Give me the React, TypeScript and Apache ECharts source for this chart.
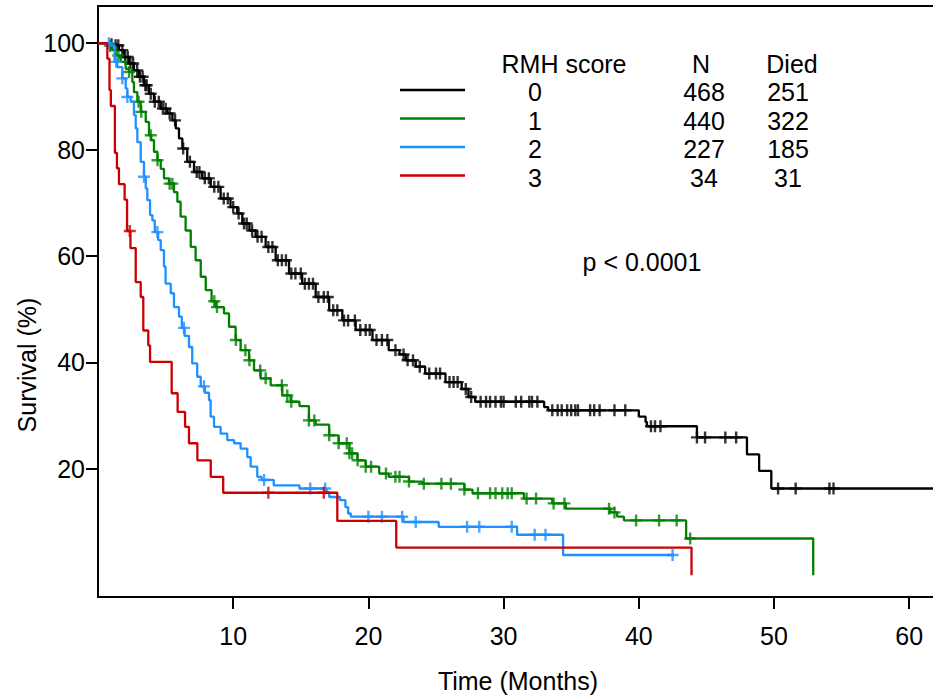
import React, { useEffect, useRef } from "react";
import * as echarts from "echarts";

// Kaplan–Meier step points: [time (months), survival (%)] after each drop
const score0: [number, number][] = [
  [0, 100], [0.9, 99.8], [1.18, 99.6], [1.55, 98.7], [1.92, 97.4], [2.29, 96.2], [2.66, 94.9],
  [3.03, 93.7], [3.4, 92.1], [3.77, 90.5], [4.14, 89.0], [4.64, 87.7], [5.13, 86.8], [5.5, 85.5],
  [5.75, 84.0], [5.99, 82.1], [6.24, 80.2], [6.6, 77.7], [7.1, 75.8], [7.71, 74.6], [8.34, 73.0],
  [9.07, 70.8], [9.8, 69.2], [10.3, 68.0], [10.67, 66.1], [11.2, 64.8], [11.66, 63.6], [12.4, 61.7],
  [13.14, 59.2], [14.13, 56.7], [15.1, 54.8], [16.1, 52.3], [17.1, 49.8], [18.07, 47.9], [19.06, 46.1],
  [20.3, 44.2], [21.5, 42.3], [22.3, 41.5], [22.76, 40.4], [23.5, 39.2], [24.2, 37.9], [25.7, 36.3],
  [26.9, 35.0], [27.4, 33.5], [27.9, 32.6], [33.0, 31.6], [33.3, 31.0], [40.0, 29.8], [40.5, 28.8],
  [40.6, 28.0], [44.3, 25.9], [48.0, 22.7], [48.9, 19.6], [49.8, 16.3], [61.8, 16.3],
];
const score1: [number, number][] = [
  [0, 100], [0.75, 99.5], [1.06, 98.7], [1.31, 97.7], [1.68, 96.5], [2.05, 95.2], [2.29, 94.6],
  [2.54, 92.7], [2.66, 90.8], [2.91, 89.0], [3.16, 87.1], [3.53, 85.2], [3.77, 82.7], [3.94, 81.8],
  [4.14, 79.6], [4.4, 78.0], [4.64, 76.4], [4.88, 74.6], [5.25, 73.6], [5.62, 72.0], [5.87, 70.2],
  [6.11, 67.4], [6.48, 64.8], [6.86, 61.7], [7.22, 59.2], [7.6, 56.1], [7.97, 53.6], [8.4, 51.5],
  [8.7, 50.4], [9.32, 49.2], [9.69, 46.7], [10.18, 44.2], [10.55, 42.3], [11.17, 40.4], [11.54, 38.5],
  [12.03, 37.0], [12.77, 35.7], [13.63, 33.8], [14.25, 32.6], [14.9, 31.8], [15.6, 29.1], [16.1, 28.3],
  [17.1, 26.3], [17.8, 24.8], [18.6, 22.9], [19.2, 21.6], [19.8, 20.4], [20.8, 19.1], [21.5, 18.5],
  [23.0, 17.6], [24.0, 17.2], [27.1, 16.1], [27.7, 15.4], [31.5, 14.4], [33.6, 13.5], [34.6, 12.5],
  [37.9, 11.8], [38.4, 11.0], [38.9, 10.3], [43.5, 6.9], [52.9, 0],
];
const score2: [number, number][] = [
  [0, 100], [0.89, 99.6], [1.23, 96.5], [1.43, 95.5], [1.8, 93.4], [2.05, 91.5], [2.17, 89.9],
  [2.42, 89.0], [2.66, 86.5], [2.79, 84.0], [2.91, 81.4], [3.16, 77.7], [3.4, 74.9], [3.53, 72.7],
  [3.65, 70.5], [3.85, 67.7], [4.02, 66.7], [4.2, 64.5], [4.45, 63.0], [4.64, 61.1], [4.88, 58.0],
  [5.0, 54.8], [5.38, 53.0], [5.62, 50.4], [5.99, 48.6], [6.2, 46.5], [6.4, 45.0], [6.73, 42.9],
  [6.97, 39.8], [7.34, 37.3], [7.6, 35.5], [7.9, 34.3], [8.21, 32.9], [8.33, 29.8], [8.58, 27.9],
  [9.07, 26.6], [9.56, 25.4], [10.06, 24.8], [10.55, 23.8], [11.04, 22.2], [11.29, 20.4], [11.78, 18.5],
  [12.1, 17.9], [13.0, 16.9], [14.9, 16.3], [16.9, 15.5], [17.1, 14.7], [17.9, 14.1], [18.3, 12.8],
  [18.5, 11.6], [18.7, 11.0], [22.6, 10.0], [25.2, 9.1], [31.0, 7.6], [34.4, 3.8], [42.6, 3.8],
];
const score3: [number, number][] = [
  [0, 100], [0.69, 97.1], [0.85, 91.2], [0.95, 88.2], [1.25, 79.4], [1.4, 76.5], [1.55, 73.5],
  [1.97, 70.6], [2.15, 64.7], [2.4, 61.5], [2.79, 55.1], [3.16, 52.3], [3.35, 46.0], [3.72, 43.2],
  [3.85, 40.1], [5.45, 34.2], [5.89, 30.7], [6.44, 27.9], [6.73, 24.8], [7.35, 21.6], [8.34, 18.5],
  [9.26, 15.5], [17.7, 10.2], [22.06, 5.2], [43.9, 0],
];

// Censoring times (months)
const censor0: number[] = [
  1.0, 1.3, 1.5, 1.8, 2.0, 2.2, 2.4, 2.6, 2.9, 3.1, 3.3, 3.5, 3.6, 3.9, 4.2, 4.5, 4.8, 5.0, 5.3, 5.7,
  6.3, 6.8, 7.3, 7.5, 7.9, 8.2, 8.6, 8.9, 9.3, 9.6, 10.0, 10.4, 10.8, 11.0, 11.4, 11.8, 12.1, 12.6,
  12.9, 13.3, 13.6, 13.9, 14.3, 14.6, 15.0, 15.3, 15.6, 15.9, 16.3, 16.7, 17.0, 17.4, 17.7, 18.2,
  18.5, 19.0, 19.4, 19.8, 20.1, 20.6, 21.0, 21.4, 22.0, 22.6, 22.9, 23.3, 23.8, 24.5, 25.0, 25.3,
  26.0, 26.3, 26.6, 27.2, 27.6, 28.3, 28.7, 29.0, 29.4, 29.8, 30.0, 30.9, 31.3, 31.9, 32.1, 32.5,
  33.6, 34.0, 34.3, 34.7, 35.0, 35.3, 35.5, 36.4, 36.7, 37.1, 38.2, 39.0, 40.9, 41.2, 41.6, 44.3,
  44.9, 46.4, 47.2, 50.3, 51.6, 54.1, 54.4,
];
const censor1: number[] = [
  0.9, 1.5, 2.3, 3.0, 3.2, 3.9, 4.4, 5.3, 5.5, 8.6, 8.8, 10.2, 10.9, 11.2, 12.0, 12.4, 13.6, 14.0,
  14.3, 15.6, 16.0, 17.1, 17.8, 18.4, 18.6, 18.8, 19.2, 19.8, 20.2, 21.3, 22.0, 22.3, 23.0, 24.1,
  25.4, 26.1, 27.1, 28.1, 29.0, 29.4, 29.9, 30.3, 30.6, 31.7, 32.4, 33.7, 34.5, 37.8, 38.2, 39.8,
  41.5, 42.8, 43.8,
];
const censor2: number[] = [
  0.8, 1.35, 1.8, 2.17, 3.4, 4.39, 6.36, 7.84, 12.28, 15.7, 16.8, 20.0, 21.0, 22.5, 23.5, 27.3,
  28.2, 30.6, 32.3, 33.1, 42.5,
];
const censor3: number[] = [2.35, 12.6, 16.7];

const groupLabels = ["0", "1", "2", "3"];
const groupN = ["468", "440", "227", "34"];
const groupDied = ["251", "322", "185", "31"];
const colors = ["#000000", "#008000", "#1E90FF", "#CC0000"];
const xTicks = [10, 20, 30, 40, 50, 60];
const yTicks = [20, 40, 60, 80, 100];

const FONT = "Arial, 'Liberation Sans', sans-serif";

function survAt(steps: [number, number][], t: number): number {
  let s = steps[0][1];
  for (const [x, y] of steps) {
    if (x <= t) s = y;
    else break;
  }
  return s;
}

export default function App() {
  const ref = useRef<HTMLDivElement>(null);
  useEffect(() => {
    if (!ref.current) return;
    const chart = echarts.init(ref.current, undefined, { renderer: "svg" });
    const curves = [score0, score1, score2, score3];
    const censors = [censor0, censor1, censor2, censor3];
    const plus = "path://M4,0H6V4H10V6H6V10H4V6H0V4H4Z";

    const series: any[] = [];
    curves.forEach((c, i) => {
      series.push({
        type: "line",
        step: "end",
        data: c,
        showSymbol: false,
        symbol: "none",
        lineStyle: { color: colors[i], width: 2.3 },
        z: 2 + i,
        silent: true,
      });
    });
    censors.forEach((cs, i) => {
      series.push({
        type: "scatter",
        data: cs.map((t) => [t, survAt(curves[i], t)]),
        symbol: plus,
        symbolSize: 12,
        itemStyle: { color: colors[i] },
        z: 2 + i,
        silent: true,
      });
    });

    const legendGraphics: any[] = [];
    const rowY = [92, 120.5, 149, 177.5];
    const lineY = [90, 118.5, 147, 175.5];
    const textStyle = (text: string, x: number, y: number) => ({
      type: "text",
      x,
      y,
      style: {
        text,
        fontSize: 25,
        fontFamily: FONT,
        fill: "#000",
        textAlign: "center",
        textVerticalAlign: "middle",
        align: "center",
        verticalAlign: "middle",
      },
    });
    legendGraphics.push(textStyle("RMH score", 564, 64));
    legendGraphics.push(textStyle("N", 701, 64));
    legendGraphics.push(textStyle("Died", 792, 64));
    groupLabels.forEach((g, i) => {
      legendGraphics.push({
        type: "line",
        shape: { x1: 400, y1: lineY[i], x2: 465, y2: lineY[i] },
        style: { stroke: colors[i], lineWidth: 2.5 },
      });
      legendGraphics.push(textStyle(g, 535, rowY[i]));
      legendGraphics.push(textStyle(groupN[i], 704, rowY[i]));
      legendGraphics.push(textStyle(groupDied[i], 788, rowY[i]));
    });
    legendGraphics.push(textStyle("p < 0.0001", 642, 262));
    legendGraphics.push(textStyle("Time (Months)", 518, 681));
    legendGraphics.push({
      ...textStyle("Survival (%)", 27, 365),
      rotation: Math.PI / 2,
    });

    chart.setOption({
      animation: false,
      backgroundColor: "#ffffff",
      grid: { left: 98, right: 0, top: 6, bottom: 101, containLabel: false },
      xAxis: [
        {
          type: "value",
          min: 0,
          max: 61.76,
          position: "bottom",
          axisLine: { show: true, onZero: false, lineStyle: { color: "#000", width: 2 } },
          axisTick: { show: true, length: 12, lineStyle: { color: "#000", width: 2 }, customValues: xTicks },
          axisLabel: { show: true, customValues: xTicks, margin: 26, fontSize: 25, fontFamily: FONT, color: "#000" },
          splitLine: { show: false },
        },
        {
          type: "value",
          min: 0,
          max: 61.76,
          position: "top",
          axisLine: { show: true, onZero: false, lineStyle: { color: "#000", width: 2 } },
          axisTick: { show: false },
          axisLabel: { show: false },
          splitLine: { show: false },
        },
      ],
      yAxis: {
        type: "value",
        min: -4.1,
        max: 107,
        axisLine: { show: true, onZero: false, lineStyle: { color: "#000", width: 2 } },
        axisTick: { show: true, length: 12, lineStyle: { color: "#000", width: 2 }, customValues: yTicks },
        axisLabel: { show: true, customValues: yTicks, margin: 13, fontSize: 25, fontFamily: FONT, color: "#000" },
        splitLine: { show: false },
      },
      series,
      graphic: legendGraphics,
    });
    return () => chart.dispose();
  }, []);
  return (
    <div
      ref={ref}
      style={{ position: "fixed", left: 0, top: 0, width: 933, height: 698, background: "#fff" }}
    />
  );
}
